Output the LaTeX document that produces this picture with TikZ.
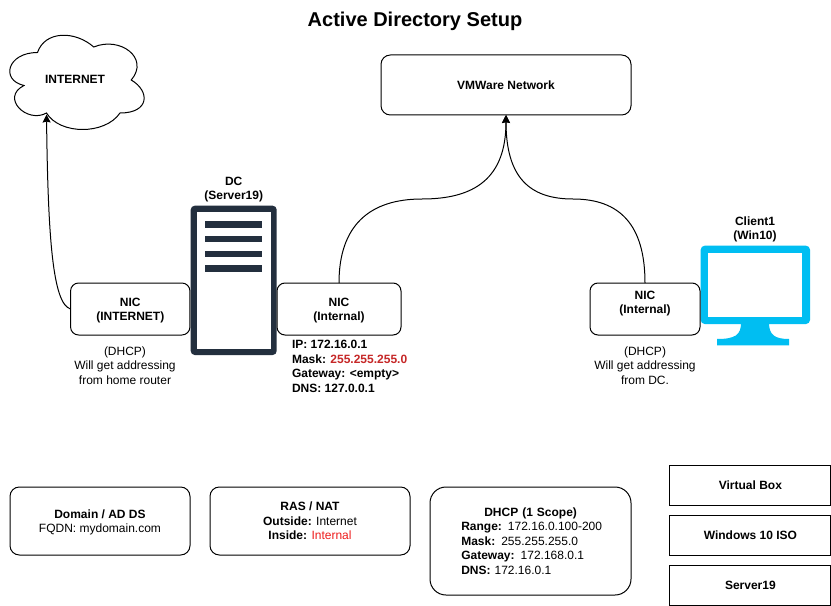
\documentclass[tikz,border=0pt]{standalone}
\usepackage{fontspec}
\setmainfont{Liberation Sans}
\usetikzlibrary{arrows.meta}
\definecolor{servercol}{HTML}{232F3E}
\definecolor{monitorcol}{HTML}{00BEF2}
\definecolor{maskred}{HTML}{C62828}
\definecolor{insidered}{HTML}{EE1C1C}
\tikzset{
  x=0.75pt,y=-0.75pt,
  every node/.style={font=\fontsize{9}{10.8}\selectfont,inner sep=0pt,outer sep=0pt,align=center},
  rbox/.style={draw=black,line width=0.75pt,rounded corners=#1,fill=white},
  rbox/.default=7pt,
  sbox/.style={draw=black,line width=0.75pt,fill=white,minimum width=120.75pt,minimum height=30pt},
  link/.style={draw=black,line width=0.75pt,-{Stealth[length=6pt,width=6pt,inset=0.7pt]}},
  twoline/.style={yshift=-1.1pt},
}
\begin{document}
\begin{tikzpicture}
\useasboundingbox (0,0) rectangle (831,606);
\fill[white] (0,0) rectangle (831,606);
% title
\node[font=\fontsize{15}{18}\selectfont\bfseries] (title) at (415,21) {Active Directory Setup};
% cloud
\draw[black,line width=0.75pt,fill=white]
 (37.5,52.5) .. controls (7.5,52.5) and (0,80) .. (24,85.5)
 .. controls (0,97.6) and (27,124) .. (46.5,113)
 .. controls (60,135) and (105,135) .. (120,113)
 .. controls (150,113) and (150,91) .. (131.25,80)
 .. controls (150,58) and (120,36) .. (93.75,47)
 .. controls (75,30.5) and (45,30.5) .. (37.5,52.5) -- cycle;
\coordinate (cloudtip) at (46.5,114.5);
\node[font=\fontsize{9}{10.8}\selectfont\bfseries] (inet) at (75,79.5) {INTERNET};
% VMWare
\node[rbox=7pt,minimum width=187.5pt,minimum height=45pt] (vm) at (506,85) {\textbf{VMWare Network}};
% server
\fill[servercol,rounded corners=3pt] (190.7,205.7) rectangle (276.7,355);
\fill[white] (197,212) rectangle (270.7,349);
\fill[servercol] (205,221) rectangle (262,227.7);
\fill[servercol] (205,235.7) rectangle (262,242.4);
\fill[servercol] (205,250.7) rectangle (262,257.4);
\fill[servercol] (205,265.3) rectangle (262,272);
\node[twoline] (dc) at (233.7,188) {\textbf{DC}\\\textbf{(Server19)}};
% monitor
\fill[monitorcol,rounded corners=3pt] (700.7,245.7) rectangle (810,324);
\fill[white] (708,253) rectangle (802,316.7);
\fill[monitorcol] (741,323) .. controls (741,335) and (735,339) .. (717,339) -- (717,345.3) -- (789,345.3) -- (789,339) .. controls (775,339) and (769,335) .. (769,323) -- cycle;
\node[twoline] (client) at (755,228) {\textbf{Client1}\\\textbf{(Win10)}};
% NICs
\node[rbox=6pt,minimum width=89.5pt,minimum height=39pt] (nicl) at (130.25,309) {};
\node[twoline] (nicll) at (nicl) {\textbf{NIC}\\\textbf{(INTERNET)}};
\node[rbox=6pt,minimum width=93pt,minimum height=39pt] (nicm) at (339,309) {};
\node[twoline] (nicml) at (nicm) {\textbf{NIC}\\\textbf{(Internal)}};
\node[rbox=6pt,minimum width=82.5pt,minimum height=39pt] (nicr) at (645,309) {};
\node[twoline] (nicrl) at (645,302) {\textbf{NIC}\\\textbf{(Internal)}};
% captions
\node (capl) at (125,365.5) {(DHCP)\\Will get addressing\\from home router};
\node[align=left,anchor=west,yshift=-0.7pt] (capm) at (292,365.5) {\textbf{IP: 172.16.0.1}\\\textbf{Mask: \textcolor{maskred}{255.255.255.0}}\\\textbf{Gateway: <empty>}\\\textbf{DNS: 127.0.0.1}};
\node (capr) at (645,365.5) {(DHCP)\\Will get addressing\\from DC.};
% connectors
\draw[link] (nicl.west) .. controls (53,304) and (48,240) .. (cloudtip);
\draw[link] (nicm.north) .. controls (339,225) and (370,199) .. (422,199) .. controls (475,199) and (506,178) .. (vm.south);
\draw[link] (nicr.north) .. controls (645,225) and (620,199) .. (573,199) .. controls (530,199) and (506,178) .. (vm.south);
% lower boxes
\node[rbox=7pt,minimum width=135pt,minimum height=51pt] (dom) at (100,521) {};
\node[twoline] (doml) at (dom) {\textbf{Domain / AD DS}\\FQDN: mydomain.com};
\node[rbox=7pt,minimum width=150pt,minimum height=51pt] (ras) at (310,521) {\textbf{RAS / NAT}\\\textbf{Outside:} Internet\\\textbf{Inside:} \textcolor{insidered}{Internal}};
\node[rbox=12pt,minimum width=150.75pt,minimum height=81pt] (dhcp) at (530.5,541) {};
\node[align=left,text width=116pt,anchor=west] (dhcpl) at (461.3,541) {\makebox[104pt][c]{\textbf{DHCP (1 Scope)}}\\\textbf{Range:} 172.16.0.100-200\\\textbf{Mask:} 255.255.255.0\\\textbf{Gateway:} 172.168.0.1\\\textbf{DNS:} 172.16.0.1};
\node[sbox] (vbox) at (750.4,485) {\textbf{Virtual Box}};
\node[sbox] (iso) at (750.4,535) {\textbf{Windows 10 ISO}};
\node[sbox] (srv) at (750.4,585) {\textbf{Server19}};
\end{tikzpicture}
\end{document}
